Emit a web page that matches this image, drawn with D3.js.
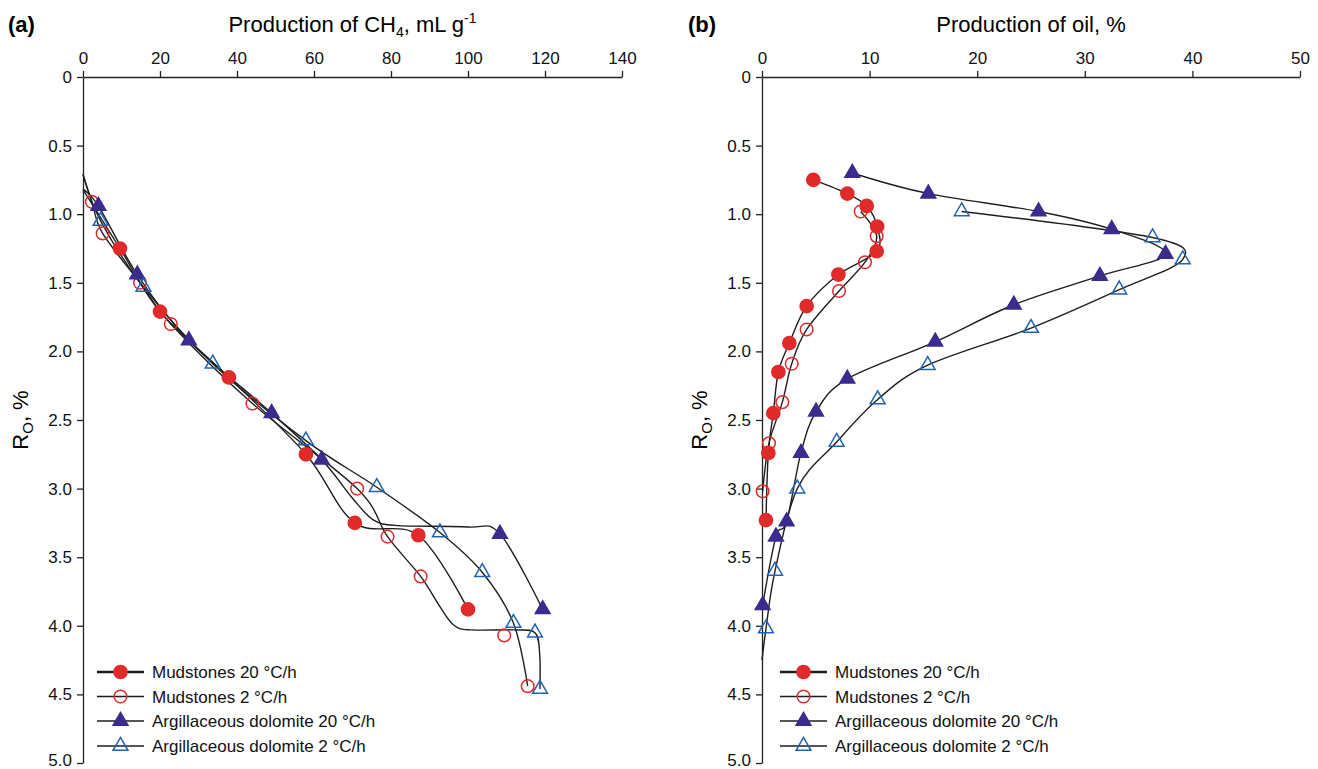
<!DOCTYPE html>
<html>
<head>
<meta charset="utf-8">
<script src="https://cdn.jsdelivr.net/npm/d3@7"></script>
<style>
  body { margin: 0; background: #fff; }
  svg { font-family: "Liberation Sans", Arial, sans-serif; }
  .axis text { font-size: 17px; fill: #111; }
  .axis path, .axis line { stroke: #222; stroke-width: 1.3; }
</style>
</head>
<body>
<svg id="chart" width="1318" height="769"></svg>
<script>
// ---- data: [production, Ro] ----
const seriesNames = ['Mudstones 20 °C/h', 'Mudstones 2 °C/h', 'Argillaceous dolomite 20 °C/h', 'Argillaceous dolomite 2 °C/h'];
const roTicks = [0, 0.5, 1, 1.5, 2, 2.5, 3, 3.5, 4, 4.5, 5];
const ch4Ticks = [0, 20, 40, 60, 80, 100, 120, 140];
const oilTicks = [0, 10, 20, 30, 40, 50];

// panel (a): CH4, marker points
const mud20A = [[9.6, 1.25], [20, 1.71], [37.9, 2.19], [57.9, 2.75], [70.6, 3.25], [87.1, 3.34], [100, 3.88]];
const mud2A = [[2.3, 0.91], [5.1, 1.14], [14.8, 1.5], [22.8, 1.8], [44, 2.38], [71.2, 3.0], [79.1, 3.35], [87.7, 3.64], [109.4, 4.07], [115.5, 4.44]];
const arg20A = [[4.0, 0.94], [14.1, 1.44], [27.5, 1.92], [49, 2.45], [62, 2.79], [108.3, 3.33], [119.4, 3.88]];
const arg2A = [[4.6, 1.05], [15.7, 1.53], [33.7, 2.09], [57.9, 2.65], [76.3, 2.99], [92.7, 3.32], [103.7, 3.61], [111.8, 3.98], [117.4, 4.05], [118.7, 4.46]];
// panel (a): smoothed line paths as drawn in the figure
const mud20ALine = [[0, 0.82], [9.6, 1.25], [20, 1.71], [37.9, 2.19], [57.9, 2.75], [70.6, 3.25], [87.1, 3.34], [100, 3.88]];
const mud2ALine = [[0, 0.71], [2.3, 0.91], [5.1, 1.14], [14.8, 1.5], [22.8, 1.8], [44, 2.38], [71.2, 3.0], [79.1, 3.35], [87.7, 3.64], [92.7, 3.86], [96.5, 4.0], [101, 4.03], [112, 4.03], [117.4, 4.05], [118.6, 4.2], [118.7, 4.46]];
const arg20ALine = [[0, 0.82], [4.0, 0.94], [14.1, 1.44], [27.5, 1.92], [49, 2.45], [62, 2.79], [70, 3.07], [75.5, 3.23], [82, 3.27], [100, 3.28], [108.3, 3.33], [119.4, 3.88]];
const arg2ALine = [[0, 0.71], [4.6, 1.05], [15.7, 1.53], [33.7, 2.09], [57.9, 2.65], [76.3, 2.99], [92.7, 3.32], [103.7, 3.61], [111.8, 3.98], [115.5, 4.44]];

// panel (b): oil, marker points
const mud20B = [[4.77, 0.75], [7.93, 0.85], [9.73, 0.94], [10.7, 1.09], [10.66, 1.27], [7.1, 1.44], [4.15, 1.67], [2.54, 1.94], [1.52, 2.15], [1.05, 2.45], [0.59, 2.74], [0.37, 3.23]];
const mud2B = [[9.17, 0.98], [10.66, 1.16], [9.57, 1.35], [7.16, 1.56], [4.15, 1.84], [2.76, 2.09], [1.89, 2.37], [0.65, 2.67], [0.06, 3.02]];
const arg20B = [[8.39, 0.7], [15.46, 0.85], [25.7, 0.98], [32.5, 1.11], [37.5, 1.29], [31.4, 1.45], [23.4, 1.66], [16.1, 1.93], [7.93, 2.2], [5.02, 2.44], [3.62, 2.74], [2.29, 3.24], [1.3, 3.35], [0.06, 3.85]];
const arg2B = [[18.56, 0.98], [36.3, 1.17], [39.1, 1.33], [33.2, 1.55], [25.0, 1.83], [15.4, 2.1], [10.75, 2.35], [6.94, 2.66], [3.28, 3.0], [1.21, 3.6], [0.37, 4.02]];
const arg2BLine = [...arg2B, [0, 4.25]];

const svg = d3.select('#chart');
const red = '#e12a2a';
const purple = '#3a2c8e';
const blue = '#2163b1';

const markerStyles = [
  { type: 'circle', fill: red, stroke: red },
  { type: 'circle', fill: 'none', stroke: red },
  { type: 'triangle', fill: purple, stroke: purple },
  { type: 'triangle', fill: 'none', stroke: blue },
];

const y = d3.scaleLinear().domain([0, 5]).range([77, 763]);

function drawMarker(g, style, cx, cy) {
  if (style.type === 'circle') {
    g.append('circle')
      .attr('cx', cx).attr('cy', cy).attr('r', style.fill === 'none' ? 6.3 : 6.6)
      .attr('fill', style.fill).attr('stroke', style.stroke).attr('stroke-width', 1.5);
  } else {
    g.append('path')
      .attr('d', d3.symbol(d3.symbolTriangle, 95)())
      .attr('transform', `translate(${cx},${cy})`)
      .attr('fill', style.fill).attr('stroke', style.stroke).attr('stroke-width', 1.5);
  }
}

function drawPanel(cfg) {
  const x = d3.scaleLinear().domain(cfg.domain).range(cfg.range);
  const g = svg.append('g');

  g.append('g')
    .attr('class', 'axis')
    .attr('transform', `translate(0,${y(0)})`)
    .call(d3.axisTop(x).tickValues(cfg.ticks).tickSize(6).tickSizeOuter(0).tickPadding(7));

  const yAxis = g.append('g')
    .attr('class', 'axis')
    .attr('transform', `translate(${x(0)},0)`)
    .call(d3.axisLeft(y).tickValues(roTicks).tickSize(6).tickSizeOuter(0).tickPadding(5)
      .tickFormat((d) => (d === 0 ? '0' : d3.format('.1f')(d))));
  // keep the bottom label inside the page
  yAxis.selectAll('.tick').filter((d) => d === 5).select('text').attr('dy', '0.15em');

  // panel label and titles
  g.append('text')
    .attr('x', cfg.labelX).attr('y', 32)
    .attr('font-size', 22).attr('font-weight', 'bold')
    .text(cfg.label);

  const title = g.append('text')
    .attr('x', (cfg.range[0] + cfg.range[1]) / 2).attr('y', 32)
    .attr('text-anchor', 'middle').attr('font-size', 22);
  cfg.title(title);

  const yTitle = g.append('text')
    .attr('transform', `translate(${cfg.yTitleX},420) rotate(-90)`)
    .attr('text-anchor', 'middle').attr('font-size', 22);
  yTitle.append('tspan').text('R');
  yTitle.append('tspan').attr('font-size', 15).attr('dy', 5).text('O');
  yTitle.append('tspan').attr('dy', -5).text(', %');

  const line = d3.line()
    .x((d) => x(d[0]))
    .y((d) => y(d[1]))
    .curve(d3.curveCardinal.tension(0));

  cfg.lines.forEach((pts) => {
    g.append('path')
      .attr('d', line(pts))
      .attr('fill', 'none')
      .attr('stroke', '#1e1e1e')
      .attr('stroke-width', 1.4);
  });

  cfg.points.forEach((pts, i) => {
    pts.forEach((d) => drawMarker(g, markerStyles[i], x(d[0]), y(d[1])));
  });

  // legend
  const rowYs = [672, 696.5, 721, 746];
  seriesNames.forEach((name, i) => {
    const ly = rowYs[i];
    g.append('line')
      .attr('x1', cfg.legendX).attr('x2', cfg.legendX + 47)
      .attr('y1', ly).attr('y2', ly)
      .attr('stroke', '#1e1e1e').attr('stroke-width', i === 0 ? 2.6 : 1.5);
    drawMarker(g, markerStyles[i], cfg.legendX + 23.5, ly);
    g.append('text')
      .attr('x', cfg.legendX + 55).attr('y', ly + 6)
      .attr('font-size', 17).attr('fill', '#111')
      .text(name);
  });
}

drawPanel({
  domain: [0, 140],
  range: [83, 622],
  ticks: ch4Ticks,
  label: '(a)',
  labelX: 8,
  yTitleX: 28,
  legendX: 97,
  title: (t) => {
    t.append('tspan').text('Production of CH');
    t.append('tspan').attr('font-size', 14).attr('dy', 5).text('4');
    t.append('tspan').attr('dy', -5).text(', mL g');
    t.append('tspan').attr('font-size', 14).attr('dy', -9).text('-1');
  },
  lines: [mud20ALine, mud2ALine, arg20ALine, arg2ALine],
  points: [mud20A, mud2A, arg20A, arg2A],
});

drawPanel({
  domain: [0, 50],
  range: [762, 1300],
  ticks: oilTicks,
  label: '(b)',
  labelX: 688,
  yTitleX: 707,
  legendX: 780,
  title: (t) => t.text('Production of oil, %'),
  lines: [mud20B, mud2B, arg20B, arg2BLine],
  points: [mud20B, mud2B, arg20B, arg2B],
});
</script>
</body>
</html>
